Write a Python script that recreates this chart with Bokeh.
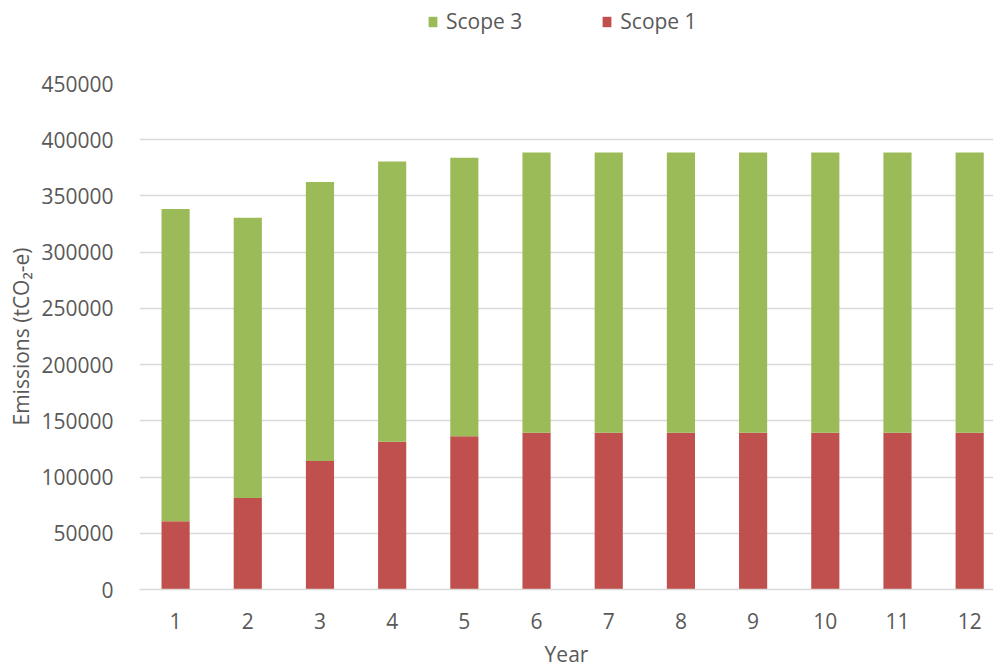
from bokeh.plotting import figure
from bokeh.layouts import column
from bokeh.models import (ColumnDataSource, Range1d, FixedTicker, NumeralTickFormatter,
                          Legend, LegendItem)
from bokeh.embed import file_html
from bokeh.resources import INLINE

# ---- data ----
years = [1, 2, 3, 4, 5, 6, 7, 8, 9, 10, 11, 12]
scope1 = [60750, 81400, 114300, 131500, 136200, 139500, 139500, 139500, 139500, 139500, 139500, 139500]
scope3 = [277700, 249100, 248100, 249200, 247800, 249200, 249200, 249200, 249200, 249200, 249200, 249200]
y_ticks = [0, 50000, 100000, 150000, 200000, 250000, 300000, 350000, 400000, 450000]
series = ["Scope 3", "Scope 1"]

RED = "#C0504D"
GREEN = "#9BBB59"
TXT = "#595959"
GRID = "#D9D9D9"
FONT = "Open Sans"
FS = "21px"

src = ColumnDataSource(dict(year=years, scope1=scope1, scope3=scope3))

TOP_H = 63
p = figure(width=993, height=670 - TOP_H, output_backend="svg", toolbar_location=None,
           x_range=Range1d(0.5, 12.33), y_range=Range1d(0, 450000),
           min_border_left=139, min_border_right=0, min_border_top=20, min_border_bottom=81)

rs = p.vbar_stack(["scope1", "scope3"], x="year", width=0.39, source=src,
                  color=[RED, GREEN], line_width=0)

p.outline_line_color = None
p.xgrid.grid_line_color = None
p.ygrid.grid_line_color = GRID
p.ygrid.grid_line_width = 1.5

p.xaxis.ticker = FixedTicker(ticks=years)
p.yaxis.ticker = FixedTicker(ticks=y_ticks)
p.yaxis.formatter = NumeralTickFormatter(format="0")

for ax in (p.xaxis, p.yaxis):
    ax.major_tick_line_color = None
    ax.minor_tick_line_color = None
    ax.major_label_text_color = TXT
    ax.major_label_text_font = FONT
    ax.major_label_text_font_size = FS
    ax.axis_label_text_color = TXT
    ax.axis_label_text_font = FONT
    ax.axis_label_text_font_size = FS
    ax.axis_label_text_font_style = "normal"

p.yaxis.axis_line_color = None
p.xaxis.axis_line_color = GRID
p.xaxis.axis_line_width = 1.5
p.yaxis.major_label_standoff = 20
p.xaxis.major_label_standoff = 17
p.yaxis.axis_label = "Emissions (tCO\u2082-e)"
p.xaxis.axis_label = "Year"
p.yaxis.axis_label_standoff = 3
p.xaxis.axis_label_standoff = 8

# ---- legend strip above the chart (its bars are drawn outside its visible range) ----
lg = figure(width=993, height=TOP_H, output_backend="svg", toolbar_location=None,
            x_range=Range1d(-3, -2), y_range=Range1d(0, 1),
            x_axis_type=None, y_axis_type=None,
            min_border_left=0, min_border_right=0, min_border_top=0, min_border_bottom=0)
lg.outline_line_color = None
lg.grid.visible = False
lrs = lg.vbar_stack(["scope1", "scope3"], x="year", width=0.39, source=src,
                    color=[RED, GREEN], line_width=0)

legend = Legend(items=[LegendItem(label=series[0], renderers=[lrs[1]]),
                       LegendItem(label=series[1], renderers=[lrs[0]])],
                orientation="horizontal", location=(288, TOP_H - 22 - 13),
                glyph_width=11, glyph_height=13, label_standoff=8, spacing=79,
                padding=0, margin=0, border_line_color=None, background_fill_alpha=0,
                label_text_font=FONT, label_text_font_size=FS, label_text_color=TXT)
lg.add_layout(legend, "center")

layout = column(lg, p, spacing=0)
open("out.html", "w").write(file_html(layout, INLINE))
